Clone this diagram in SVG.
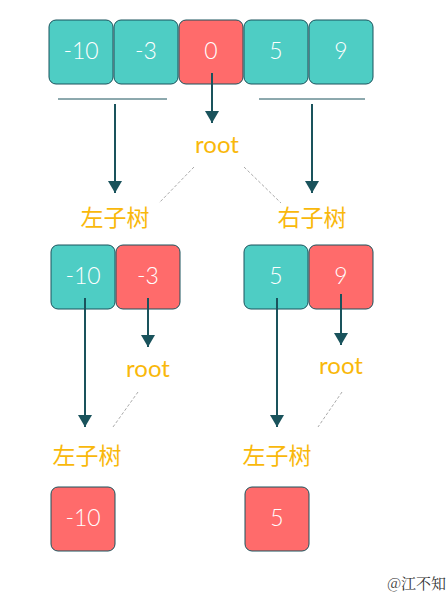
<svg xmlns="http://www.w3.org/2000/svg" width="448" height="592" viewBox="0 0 448 592">
<defs>
<style>
.t{fill:#4ECDC4;stroke:#1A535C;stroke-width:1}
.r{fill:#FF6B6B;stroke:#1A535C;stroke-width:1}
.n{font-family:Lato,"Liberation Sans",sans-serif;font-weight:300;font-size:23px;fill:#ffffff;text-anchor:middle}
.o{font-family:Lato,"Liberation Sans",sans-serif;font-weight:400;font-size:24px;fill:#F9B80B;text-anchor:middle}
.c{font-family:"Noto Sans CJK SC",sans-serif;font-weight:400;font-size:23px;fill:#F9B80B;text-anchor:middle}
.a{stroke:#1A535C;stroke-width:2;fill:none;marker-end:url(#ah)}
.d{stroke:#aaaaaa;stroke-width:1;stroke-dasharray:3,2;fill:none}
.h{stroke:#1A535C;stroke-width:1;fill:none}
</style>
<marker id="ah" viewBox="0 0 12 14" refX="12" refY="7" markerWidth="12" markerHeight="14" markerUnits="userSpaceOnUse" orient="auto">
<path d="M0,0 L12,7 L0,14 z" fill="#1A535C"/>
</marker>
</defs>
<rect width="448" height="592" fill="#ffffff"/>

<g id="top-m10"><rect class="t" x="49" y="20" width="64" height="64" rx="7"/><text class="n" x="81" y="59">-10</text></g>
<g id="top-m3"><rect class="t" x="114" y="20" width="64" height="64" rx="7"/><text class="n" x="146" y="59">-3</text></g>
<g id="top-0"><rect class="r" x="179" y="20" width="64" height="64" rx="7"/><text class="n" x="211" y="59">0</text></g>
<g id="top-5"><rect class="t" x="244" y="20" width="64" height="64" rx="7"/><text class="n" x="276" y="59">5</text></g>
<g id="top-9"><rect class="t" x="309" y="20" width="64" height="64" rx="7"/><text class="n" x="341" y="59">9</text></g>

<g id="root1"><text class="o" x="217" y="153">root</text></g>
<g id="left1"><text class="c" x="115" y="226">左子树</text></g>
<g id="right1"><text class="c" x="312" y="226">右子树</text></g>

<g id="mid-m10"><rect class="t" x="51" y="245" width="64" height="64" rx="7"/><text class="n" x="83" y="284">-10</text></g>
<g id="mid-m3"><rect class="r" x="116" y="245" width="64" height="64" rx="7"/><text class="n" x="148" y="284">-3</text></g>
<g id="mid-5"><rect class="t" x="244" y="245" width="64" height="64" rx="7"/><text class="n" x="276" y="284">5</text></g>
<g id="mid-9"><rect class="r" x="309" y="245" width="64" height="64" rx="7"/><text class="n" x="341" y="284">9</text></g>

<g id="root2"><text class="o" x="148" y="377">root</text></g>
<g id="root3"><text class="o" x="341" y="374">root</text></g>
<g id="left2"><text class="c" x="87" y="464">左子树</text></g>
<g id="left3"><text class="c" x="277" y="464">左子树</text></g>

<g id="bot-m10"><rect class="r" x="51" y="487" width="64" height="64" rx="7"/><text class="n" x="83" y="526">-10</text></g>
<g id="bot-5"><rect class="r" x="245" y="487" width="64" height="64" rx="7"/><text class="n" x="277" y="526">5</text></g>

<g id="connectors">
<line class="h" x1="58" y1="99" x2="167" y2="99"/>
<line class="h" x1="259" y1="99" x2="365" y2="99"/>
<line class="a" x1="212" y1="73" x2="212" y2="123"/>
<line class="a" x1="115" y1="104" x2="115" y2="193"/>
<line class="a" x1="312" y1="104" x2="312" y2="193"/>
<line class="d" x1="194" y1="167" x2="159" y2="203"/>
<line class="d" x1="244" y1="167" x2="281" y2="203"/>
<line class="a" x1="85" y1="298" x2="85" y2="427"/>
<line class="a" x1="148" y1="298" x2="148" y2="347"/>
<line class="a" x1="277" y1="298" x2="277" y2="427"/>
<line class="a" x1="341" y1="294" x2="341" y2="345"/>
<line class="d" x1="138" y1="392" x2="113" y2="427"/>
<line class="d" x1="342" y1="392" x2="318" y2="427"/>
</g>

<g id="watermark"><text x="446" y="589" font-family="'Noto Serif CJK SC','Noto Sans CJK SC',serif" font-size="15" fill="#333333" text-anchor="end">@江不知</text></g>
</svg>
